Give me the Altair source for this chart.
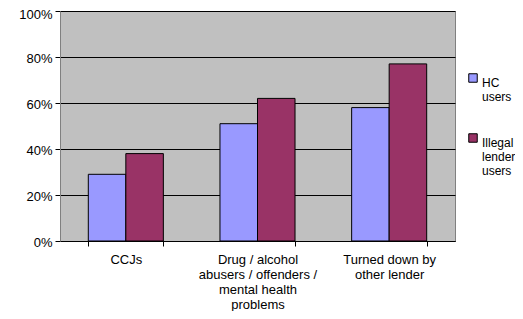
import altair as alt
import pandas as pd

categories = ["CCJs", "Drug / alcohol\nabusers / offenders /\nmental health\nproblems", "Turned down by\nother lender"]
series = ["HC users", "Illegal lender users"]
hc_values = [0.29, 0.51, 0.58]
illegal_values = [0.38, 0.62, 0.77]
colors = ["#9999FF", "#993366"]

rows = []
for c, h, i in zip(categories, hc_values, illegal_values):
    rows.append({"category": c, "series": series[0], "value": h})
    rows.append({"category": c, "series": series[1], "value": i})
df = pd.DataFrame(rows)

FONT = "Liberation Sans"

chart = alt.Chart(df).mark_bar(stroke="black", strokeWidth=1).encode(
    x=alt.X("category:N", sort=categories, title=None,
            scale=alt.Scale(paddingInner=0.43, paddingOuter=0.215),
            axis=alt.Axis(labelAngle=0, labelExpr="split(datum.label, '\\n')",
                          tickBand="extent", domainColor="black", tickColor="black",
                          labelFont=FONT, labelFontSize=13, labelColor="black",
                          labelPadding=7, tickSize=5, labelLineHeight=15)),
    xOffset=alt.XOffset("series:N", sort=series, scale=alt.Scale(paddingInner=0, paddingOuter=0)),
    y=alt.Y("value:Q", title=None,
            scale=alt.Scale(domain=[0, 1]),
            axis=alt.Axis(format="%", values=[0, 0.2, 0.4, 0.6, 0.8, 1.0],
                          gridColor="black", gridOpacity=1, gridWidth=1,
                          domainColor="#808080", tickColor="black", tickSize=5,
                          labelFont=FONT, labelFontSize=13, labelColor="black",
                          labelPadding=3,
                          labelOffset={"condition": {"test": "datum.value >= 1", "value": 3}, "value": 1})),
    color=alt.Color("series:N", sort=series, title=None,
                    scale=alt.Scale(domain=series, range=colors),
                    legend=alt.Legend(orient="none", legendX=407, legendY=61,
                                      labelExpr="split(datum.label, ' ')",
                                      symbolType="square", symbolSize=72,
                                      symbolStrokeColor="black", symbolStrokeWidth=1,
                                      labelFont=FONT, labelFontSize=12,
                                      labelColor="black",
                                      labelBaseline="top", labelOffset=3,
                                      rowPadding=28)),
).properties(
    width=395, height=230,
    background="white",
    autosize=alt.AutoSizeParams(type="none"),
    padding={"left": 52, "top": 3, "right": 60, "bottom": 70},
).configure_view(
    fill="#C0C0C0", stroke="#808080", strokeWidth=1
)

chart.save("out.html", embed_options={"renderer": "svg", "actions": False})
